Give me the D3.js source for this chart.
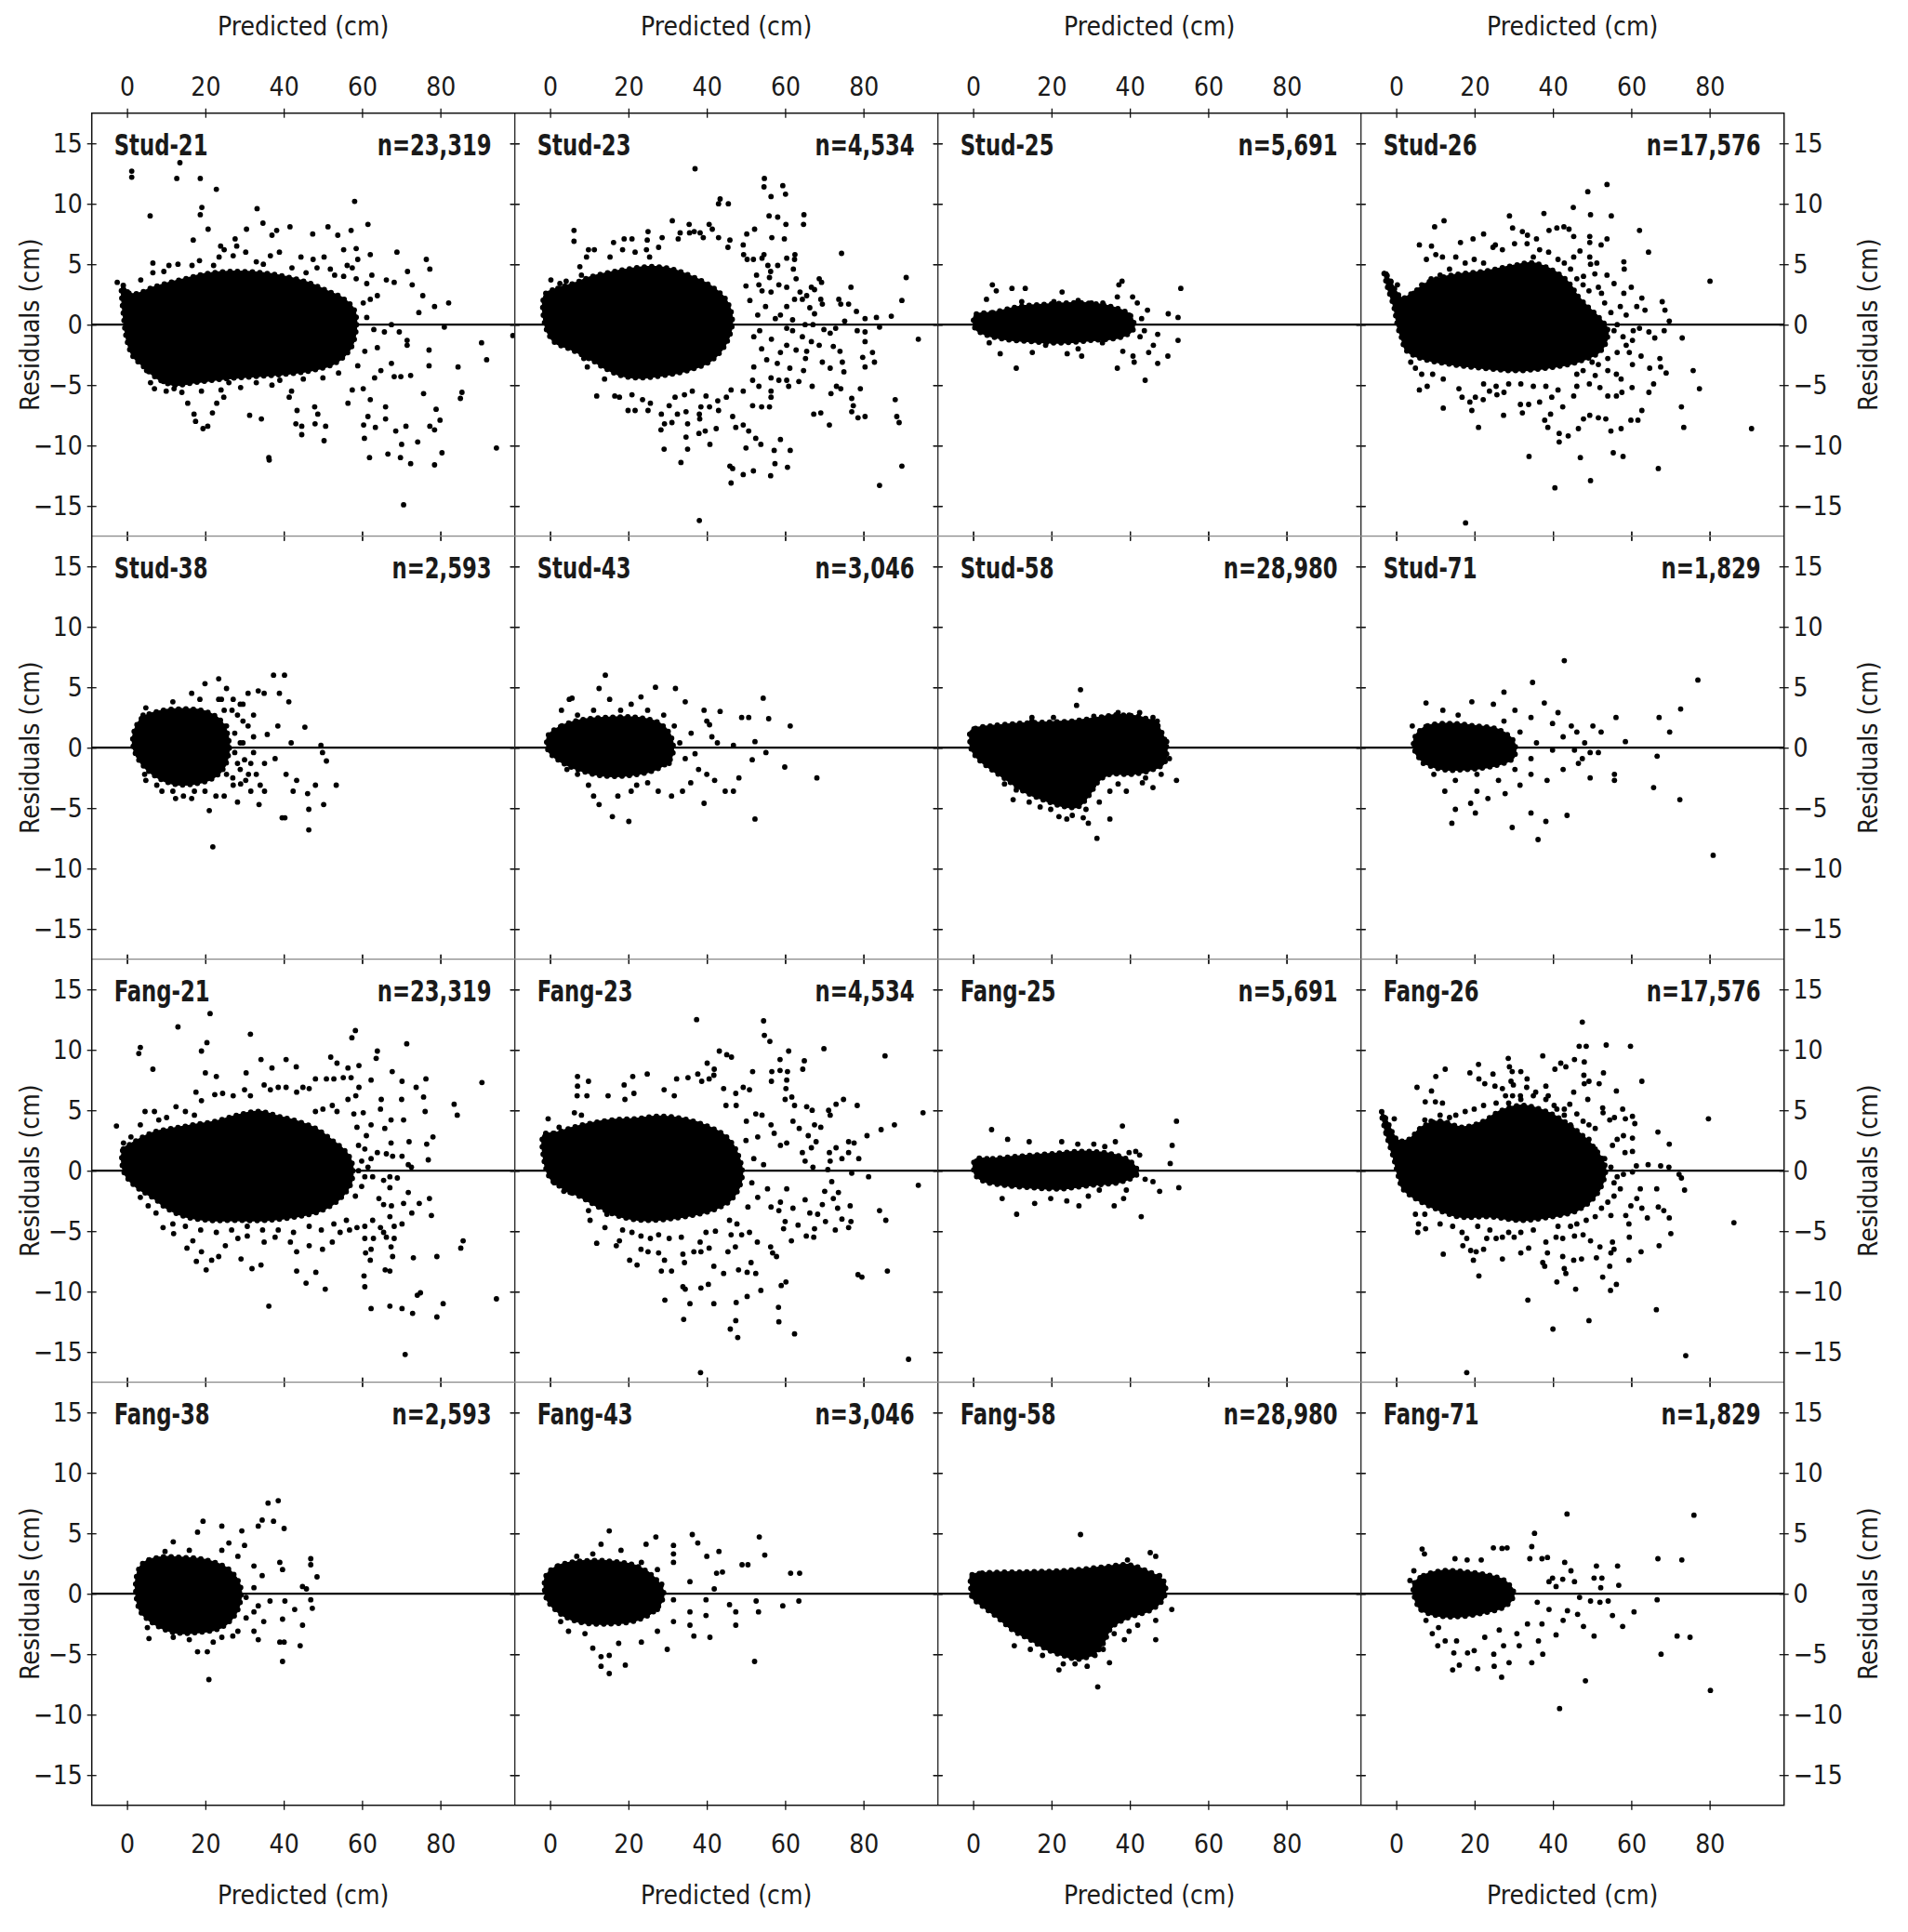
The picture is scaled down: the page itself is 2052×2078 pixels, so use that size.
<!DOCTYPE html>
<html>
<head>
<meta charset="utf-8">
<script src="https://cdn.jsdelivr.net/npm/d3@7"></script>
<style>
  body { margin: 0; background: #fff; }
</style>
</head>
<body>
<svg id="chart"></svg>
<script>
const panelNames = ["Stud-21", "Stud-23", "Stud-25", "Stud-26", "Stud-38", "Stud-43", "Stud-58", "Stud-71",
    "Fang-21", "Fang-23", "Fang-25", "Fang-26", "Fang-38", "Fang-43", "Fang-58", "Fang-71"];
const panelCounts = ["n=23,319", "n=4,534", "n=5,691", "n=17,576", "n=2,593", "n=3,046", "n=28,980", "n=1,829",
    "n=23,319", "n=4,534", "n=5,691", "n=17,576", "n=2,593", "n=3,046", "n=28,980", "n=1,829"];
const xTicks = [0, 20, 40, 60, 80];
const yTicks = [-15, -10, -5, 0, 5, 10, 15];
const xDomain = [-9, 99];
const yDomain = [-17.5, 17.5];
const xTitle = "Predicted (cm)";
const yTitle = "Residuals (cm)";

// dense part of each cloud, outline [predicted, residual]
const stud21Core = [[-1.2,3.3],[0.5,2.6],[3,2.6],[6,3],[10,3.4],[15,3.8],[20,4.2],[27,4.4],[34,4.3],[40,4],[46,3.5],[51,2.8],[55,2.2],[58,1.2],[58.5,-0.3],[57,-2],[53,-3.2],[47,-3.8],[40,-4.1],[32,-4.3],[24,-4.5],[17,-4.8],[12,-5],[8,-4.5],[4,-3.4],[1.5,-2.6],[0,-1.3],[-0.8,0.5]];
const stud23Core = [[-1.3,2.5],[2,3],[6,3.4],[10,3.9],[15,4.3],[20,4.6],[26,4.8],[31,4.6],[36,4],[41,3.2],[45,2],[46.5,0.3],[45,-1.5],[41,-3],[35,-3.8],[29,-4.2],[23,-4.4],[18,-4.2],[14,-3.6],[10,-2.8],[5,-2],[1,-1.4],[-1.3,0]];
const stud25Core = [[0.5,0.8],[5,1],[12,1.5],[20,1.7],[28,1.8],[35,1.5],[40,0.8],[41,-0.3],[38,-1],[30,-1.3],[22,-1.5],[15,-1.4],[8,-1.2],[3,-0.8],[0.5,-0.3]];
const stud26Core = [[-3.1,4.4],[-2.2,3.1],[-0.6,1.5],[0.5,-0.3],[1.3,-1],[2.5,-2.1],[6.5,-2.8],[14.4,-3.3],[22.3,-3.6],[30.2,-3.8],[38.2,-3.6],[46.1,-3.1],[52.4,-2.1],[54,-0.5],[52,0.5],[48.8,1.5],[46,2.5],[44.9,3.1],[41.9,4.1],[35,5.1],[30.2,4.9],[22.3,4.4],[14.4,4.1],[8.1,3.5],[4.1,2.6],[1.5,2.2],[-1.5,3.6]];
const stud38Core = [[2,1.5],[4,2.5],[8,3],[14,3.2],[20,3],[24,2.2],[26,0.5],[25,-1.5],[22,-2.5],[17,-3],[12,-3],[7,-2.3],[3,-1],[1.5,0.3]];
const stud43Core = [[-0.5,1],[3,1.8],[8,2.3],[15,2.5],[22,2.5],[28,2],[31,0.8],[31,-0.8],[27,-1.8],[20,-2.3],[13,-2.3],[7,-1.8],[2,-1],[-0.5,-0.2]];
const stud58Core = [[-0.8,1.3],[0.6,1.6],[4.7,1.8],[11.6,2],[18.4,2.1],[25.3,2.2],[32.2,2.5],[36.3,2.7],[43.2,2.5],[46.6,2],[48.6,0.9],[49.4,-0.2],[48.7,-1.3],[45.9,-1.8],[40.4,-2.2],[34.9,-2.2],[32.2,-2.7],[29.4,-4],[26.7,-4.9],[23.9,-4.9],[21.2,-4.7],[17.1,-4.2],[12.9,-3.6],[8.8,-2.7],[4.7,-1.8],[1.2,-0.9],[-0.6,0],[-0.8,0.9]];
const stud71Core = [[5,1],[8,1.8],[14,2],[20,1.8],[26,1.5],[30,0.5],[30,-0.8],[25,-1.5],[18,-1.8],[12,-1.8],[7,-1.2],[4.5,0]];
const fang21Core = [[-1.3,1.3],[-0.9,1.8],[1.4,2.3],[4.2,2.8],[7,3.2],[11.7,3.5],[17.2,3.8],[22.8,4.1],[28.3,4.6],[33.8,4.9],[38.6,4.5],[43.3,4.1],[48.1,3.5],[52,2.6],[56,1.5],[57.5,0.5],[57.2,-1],[54.4,-2.3],[49.6,-3.3],[43.3,-3.8],[35.4,-4.1],[27.5,-4.1],[21.2,-4.1],[14.9,-3.8],[10.1,-3.1],[7,-2.3],[3,-1.5],[0.6,-0.8],[-0.9,0]];
const fang23Core = [[-1.6,3],[1,3.1],[5,3.5],[10,3.9],[16,4.2],[22,4.3],[28,4.5],[34,4.3],[40,3.7],[45,2.8],[48,1.3],[49,-0.5],[46.5,-2.3],[42,-3.2],[36,-3.7],[30,-4],[24,-4.1],[18,-3.8],[13,-3.1],[8,-2.2],[3,-1.4],[0,-0.6],[-1.6,1]];
const fang25Core = [[0.5,0.9],[5,1],[12,1.2],[20,1.4],[28,1.6],[35,1.4],[40,0.8],[42,-0.2],[38,-0.9],[30,-1.2],[22,-1.5],[15,-1.4],[8,-1.2],[3,-0.9],[0.5,-0.3]];
const fang26Core = [[-3.8,4.9],[-2.6,3.1],[-0.6,1],[0.6,-0.5],[1.7,-1.5],[4.9,-2.3],[9.7,-3.1],[16,-3.8],[23.9,-3.8],[31.8,-4.1],[39.7,-3.8],[46.1,-3.3],[50.8,-2.1],[53.2,-0.5],[53.2,0.5],[50,2.1],[46.1,3.3],[41.3,4.4],[36.6,5.1],[31.8,5.4],[26.3,4.9],[22.3,4.1],[16.8,3.6],[11.2,4.1],[6.5,3.6],[3.3,2.6],[0.5,2.5],[-2.5,4.2]];
const fang38Core = [[2.5,1.5],[4,2.5],[8,3],[14,3],[20,2.8],[26,2],[29,0.5],[28,-1.5],[24,-2.8],[18,-3.2],[12,-3.2],[7,-2.5],[3.5,-1.5],[2.3,0]];
const fang43Core = [[-1,1.5],[2,2.3],[8,2.7],[15,2.7],[22,2.3],[27,1.2],[29,0],[27,-1.3],[22,-2.2],[14,-2.5],[7,-2.3],[2,-1.5],[-1,-0.3]];
const fang58Core = [[-0.6,1.5],[2.3,1.7],[12.6,1.8],[22.9,1.9],[33.2,2.2],[39.4,2.4],[43.5,2],[48.7,1],[48.7,-0.3],[45.6,-1.3],[39.4,-2],[35.3,-2.8],[33.2,-4.1],[31.1,-4.9],[27,-5.4],[22.9,-5.1],[18.8,-4.6],[14.6,-3.8],[10.5,-3.1],[6.4,-2],[2.3,-1],[-0.2,-0.3],[-0.6,0.8]];
const fang71Core = [[4.5,0.8],[7,1.5],[12,1.9],[18,1.8],[24,1.5],[28,1],[30,0],[28,-1],[22,-1.6],[15,-1.9],[9,-1.7],[6,-1.2],[4.5,0]];

// scattered points outside the dense part [predicted, residual]
const stud21Pts = [[1.2,12.2],[1.2,12.7],[13.5,13.4],[12.7,12.1],[18.7,12.1],[22.8,11.2],[5.9,9],[19.1,9.7],[18.7,9.1],[33.2,9.6],[34.7,8.4],[58.1,10.2],[61.5,8.3],[41.6,8.1],[51.3,8.1],[53.8,7.4],[57.2,7.8],[47.4,7.5],[38.2,7.8],[30.5,7.9],[27.6,7.1],[24.8,6.2],[20.7,7.9],[16.9,7],[62.1,5.8],[68.9,6],[76.4,5.4],[77.3,4.6],[71.6,4.4],[66.2,3.7],[68.2,3.5],[72.8,3.3],[75.5,2.4],[78.5,1.5],[82.1,1.8],[74.5,1],[81,-0.2],[69.5,-0.6],[90.5,-1.5],[98.5,-0.9],[91.8,-2.9],[84.5,-3.5],[85.5,-5.6],[85.1,-6.1],[71.5,-1.7],[71.5,-1.3],[72.4,-4.2],[77.1,-2.1],[77.1,-3.4],[75.7,-5.7],[78.9,-7],[79.9,-7.9],[77.3,-8.4],[78.5,-8.7],[80.4,-10.6],[78.5,-11.6],[72.4,-11.5],[70.6,-14.9],[94.3,-10.2],[69.8,-11],[74.2,-9.7],[70.1,-9.9],[71.2,-8.4],[68.6,-8.8],[66.6,-10.7],[66,-7.8],[66,-6.8],[63.4,-8.5],[61.9,-11],[60.6,-9.4],[60.4,-8.3],[61.5,-7.6],[62.1,-6.2],[56.4,-6.5],[50.3,-9.6],[50.7,-8.4],[48,-8.2],[44.6,-9.1],[44.6,-8.4],[43.1,-8.2],[47.9,-6.8],[48.7,-7.4],[43.4,-7.1],[41.4,-6],[36.2,-11],[36.3,-11.2],[34.3,-7.8],[31.3,-7.5],[24.7,-6],[22.9,-6.5],[21.8,-7.3],[20.6,-8.4],[19.4,-8.6],[17.5,-8],[17.1,-7.4],[15.5,-6.5],[9.3,-4.7],[68.2,-4.3],[69.9,-4.3],[67.5,-3.2],[64.8,-3.8],[63.2,-4.4],[60.3,-5.3],[57.5,-5.4],[58.9,-3.4],[60.7,-2.2],[63.9,-1.9],[65.7,-0.6],[67.5,0],[63,-0.4],[61.2,0.6],[60.3,1.8],[62.1,2.1],[63.9,2.4],[62.5,4.1],[61.2,3.4],[58.5,3.8],[58.9,5.4],[57.5,4.7],[58.5,6.3],[55.3,6.2],[56.2,4.9],[55.3,4],[53,4.1],[50.3,5.6],[51.9,4.6],[48.5,4.7],[47.5,5.4],[44.4,5.6],[45.7,4.3],[42.1,4.7],[38.9,6],[36.6,5.7],[37,7.4],[34.8,5],[33,5.2],[30.3,6],[28,6.5],[27.1,5.7],[23.5,5.6],[22.1,4.9],[18.5,5.3],[16.6,4.9],[13,5],[10.7,4.9],[9.4,4.4],[6.6,5.1],[6.6,4.3],[3.5,3.7],[-2.5,3.5],[23.9,6.5],[5,-3.8],[12,-5.3],[14,-5.6],[26,-4.8],[29,-5.2],[33,-4.8],[37,-5],[45,-4.5],[50,-4.4],[54,-4],[10,-5.5],[19,-5.5],[24,-5.4],[39,-4.6],[42,-5.5],[6,-4.8],[7,-5.3]];
const stud23Pts = [[6.1,7.8],[6.1,6.9],[9.8,6.2],[11.3,6.2],[9.3,5.6],[7.6,4.8],[8,4.1],[2.5,3.4],[0.2,3.7],[4.1,3.6],[15.3,5.6],[16.2,6.8],[18.9,7.1],[20.9,7.1],[25,7.7],[24.8,7],[18.5,6.2],[21.7,6],[24.6,6.2],[25.4,5.6],[27.7,6.4],[28.6,7.2],[31.2,8.6],[32.7,7.1],[33.2,7.6],[35.5,8.3],[35.6,7.6],[36.8,7.7],[38.3,7.6],[39.1,7.2],[40.6,8.3],[41.4,7.9],[43,7.2],[43.4,10.4],[43,10],[45.5,10],[37,12.9],[54.7,12.1],[54.6,11.4],[59.4,11.5],[56.4,10.6],[60.1,10.8],[55.9,9],[58.1,8.9],[64.8,9.1],[64.7,8.3],[60.2,8.3],[56.6,7.2],[59.8,7.1],[52.2,7.9],[50.2,7.5],[45.9,7],[45.4,6.4],[49.3,6.6],[49.4,5.8],[50.3,5.4],[51.9,5.4],[54.1,5.5],[54.6,5.8],[60.4,5.5],[62.5,5.8],[62.4,5.4],[62.1,4.6],[58.1,4.9],[55.6,4.9],[56.3,4.4],[52.7,4.1],[56,3.9],[53.3,3.3],[54.1,2.8],[56.4,2.7],[58.4,3.3],[60.4,3.1],[62.8,3.8],[63.8,2.7],[66.7,3.1],[68.7,3.8],[69.3,3.5],[67.5,2.9],[65.5,2.4],[69.1,2.1],[69.5,1.7],[73.7,2.1],[74.2,1.7],[76.2,1.7],[76.8,3.1],[74.4,5.9],[90.9,3.9],[89.8,2],[87.1,0.7],[83.3,0.6],[80.4,0.5],[78.2,1.1],[75.2,0.3],[72.9,-0.3],[69.9,-0.4],[84.1,-0.2],[78.4,-0.5],[80.4,-0.6],[94,-1.2],[80.4,-1.4],[82.3,-2.3],[82.8,-3.1],[80.4,-3.5],[79.8,-2.7],[74.6,-3.1],[75,-3.9],[74,-2.2],[72.3,-1.8],[71.5,-0.7],[68.7,-1.7],[69.5,-3.1],[71.5,-3.6],[73.1,-5.1],[74.2,-5.3],[79.2,-5.3],[77,-6.1],[77.4,-6.7],[77,-7.2],[78.6,-7.7],[80.4,-7.6],[88.1,-6.2],[88.5,-7.6],[89.1,-8.1],[71.3,-8.3],[69.1,-7.3],[67.3,-7.4],[66.9,-5.1],[71.7,-5.7],[89.8,-11.7],[84.1,-13.3],[38.1,-16.2],[33.4,-11.4],[29.1,-10.3],[34.7,-9.3],[35.1,-10.3],[38,-9],[39.6,-8.8],[40.8,-9.9],[42.4,-8.6],[46.6,-7.6],[47.4,-8.5],[49.3,-8.3],[50.7,-8.8],[52.5,-9.4],[53.8,-9.9],[50,-10.2],[57.2,-10.4],[61.3,-10.4],[58.8,-9.5],[57.4,-11.5],[60.6,-11.8],[45.9,-11.7],[46.6,-11.9],[49.3,-12.4],[51.9,-12.1],[46.2,-13.1],[56.3,-12.5],[38.2,-7.8],[38.5,-6.8],[40.7,-6.8],[42.8,-6.3],[45,-6],[43,-7.1],[38.1,-7.4],[34.7,-7.2],[32.5,-7.4],[31.1,-8.1],[35.1,-8.2],[29.2,-8.2],[28.3,-8.7],[21.7,-7.1],[19.9,-7.1],[25,-7.1],[17.7,-6],[16.5,-5.9],[11.9,-5.9],[13.9,-4.5],[9.5,-3.5],[9.9,-2.8],[8.6,-2.8],[4.9,-1.5],[3.3,-1.5],[1.3,-1],[20.9,-5.8],[23.6,-6.2],[25.6,-6.5],[28.4,-7.4],[30.4,-6.7],[31.9,-6],[34.3,-5.8],[36.3,-5.5],[39.8,-5.9],[46.2,-5.4],[49.3,-5.5],[51.7,-6.7],[54,-6.8],[56,-6.8],[56.4,-6],[56.4,-5.5],[53.3,-5.1],[51.7,-4.6],[56.4,-4.4],[58.4,-4.6],[60.4,-4.6],[60.9,-5.1],[63.5,-4.7],[64.7,-3.8],[61.2,-3.6],[58,-3.2],[55.3,-2.9],[58.8,-2.3],[60.4,-1.7],[62.8,-2.1],[64.4,-1],[65.5,-2.2],[66.7,-1.4],[65.2,-2.8],[60.4,-0.3],[61.9,-0.5],[65.1,0],[67.1,0],[61.9,0.4],[58.8,0.8],[60.4,1.5],[62.4,2.1],[64.4,2.1],[66.3,1.4],[67.5,0.9],[51,2],[52,-1],[53,0.8],[54,-2],[55,1.5],[52,-3.5],[50,3.2],[53.5,-0.5],[56.5,-1.2],[57.5,0.5]];
const stud25Pts = [[4.9,3.3],[3.4,2.1],[5.9,2.8],[9.9,3],[13.3,3],[12.4,1.9],[22.7,2.7],[26.8,2],[20.6,1.9],[30.2,1.8],[33.1,1.8],[38,3.6],[37.2,3.3],[36.8,2.3],[40.7,2.3],[41.9,1.8],[53,3],[49.8,0.9],[52.3,0.6],[52.3,-1.3],[47.1,-0.8],[43.7,-0.5],[42.6,-1],[46,-1.7],[44.8,-2.3],[49.7,-2.6],[47.1,-3.2],[43.9,-4.6],[40.8,-2.6],[41.1,-3.1],[38.2,-2.2],[36.8,-3.6],[27.7,-2.6],[26.8,-2],[24,-2.4],[15.1,-2.3],[6.9,-2.4],[4.1,-1.5],[11,-3.6],[18.5,-1.7],[33,-1.5],[35.7,-1],[39.8,0.8],[20.6,-1.4],[43,0.5],[44.5,1.2]];
const stud26Pts = [[53.8,11.6],[48.9,11],[45.2,9.7],[49.6,9.1],[54.9,9],[37.7,9.2],[28.9,9],[12.2,8.6],[9.8,8.1],[5.9,6.6],[9,6.5],[7.7,5.4],[10.1,5.8],[11.8,5.6],[16.4,6.8],[19.6,7.1],[22.3,7.5],[25.3,6.6],[29.7,8],[32.2,7.7],[33.5,7.4],[35.8,7.1],[39,7.8],[41,8],[42.8,8.1],[44.1,7.9],[45.3,7.3],[49.4,7.3],[49.4,6.8],[53.8,7.1],[52.3,6.6],[46.9,6.1],[45.3,5.6],[49.4,5.6],[51.2,5.1],[49.6,5],[58.1,5.2],[58.2,4.6],[62.1,7.8],[64.4,6],[53.8,4.1],[47.8,4],[50.7,4.2],[55.6,3.4],[60,3.1],[58.1,2.6],[62.7,2.2],[63.5,1.2],[61.4,1.5],[67.9,1.9],[68.6,1.2],[69.7,0.3],[80.1,3.6],[62.1,-0.3],[64.5,-0.6],[66,-1.1],[68.4,-0.5],[73,-1.1],[75.8,-3.8],[77.4,-5.3],[72.8,-6.8],[73.4,-8.5],[90.7,-8.6],[66.9,-11.9],[60.5,-0.5],[60.3,-1.3],[58.7,-1.7],[59.5,-2.3],[60.3,-3.3],[62.5,-2.6],[64.7,-3.6],[67.3,-2.8],[67.5,-3.5],[68.9,-4],[65.7,-4.9],[64.5,-5.6],[60.2,-5.2],[57.4,-4.5],[56.2,-4.1],[54,-3.8],[51.6,-3.3],[50.8,-4.2],[49.3,-4.9],[52,-5.2],[54,-5.9],[56.2,-5.9],[57.6,-5.6],[62.7,-7.1],[61.7,-7.9],[59.9,-7.9],[57.4,-8.6],[54.8,-8.8],[55.4,-10.6],[57.9,-10.9],[53.5,-7.8],[51.6,-7.7],[49.4,-7.5],[47.8,-7.8],[46.5,-8.6],[47,-11],[49.6,-12.9],[43.9,-9.2],[41.6,-9],[41.6,-9.7],[40.5,-13.5],[38.7,-8.5],[37.9,-7.9],[39.4,-7.4],[33.9,-10.9],[27.4,-7.5],[21,-8.5],[17.7,-16.4],[12,-6.9],[5.9,-5.4],[7.9,-5.1],[16.8,-6],[18.8,-6.4],[19.3,-7.1],[20.2,-6],[22.2,-6.2],[23.8,-5.5],[25.7,-5.8],[27.5,-5.6],[31.7,-6.6],[33.8,-6.6],[32.2,-7.3],[36.6,-6.4],[39.7,-6],[42.5,-6.8],[45.3,-5.9],[46.1,-5.1],[41.3,-5.4],[38.2,-5.1],[35,-5.1],[31.8,-4.9],[28.7,-4.9],[25.5,-5.1],[22.3,-4.9],[16,-5.3],[12,-4.5],[9.3,-4.1],[6.5,-4.1],[4.9,-3.6],[3.7,-3.1],[46.1,-4.1],[47.7,-3.8],[50,-3.1],[54,-2.8],[56.4,-2.3],[57.9,-1],[55.6,-0.5],[56.4,0],[58.7,0.8],[57.2,1.5],[54.8,1],[53.2,1.8],[52.4,2.6],[51.6,3.1],[49.2,2.8],[47.7,3.3],[46.1,3.8],[44.5,4.6],[42.9,5.1],[41.3,5.4],[38.9,6],[36.6,6.2],[35,5.6],[33.4,6.7],[30.2,6.7],[27.1,6.2],[24.7,6.4],[22.3,5.1],[19.9,5.4],[17.6,5.1],[15.2,5.6],[13.6,4.6],[11.2,4.1],[8.9,3.8],[6.5,3.3],[4.5,2.6],[0.3,3.3],[-1.4,3.6],[-2.6,4.2]];
const stud38Pts = [[23.4,5.7],[37.4,6],[40.2,6],[19.9,5.3],[25.4,4.9],[30.9,4.5],[33.5,4.7],[35,4.5],[38.9,4.5],[41.3,3.8],[45.4,1.7],[38.5,1.8],[35.8,1.1],[32.3,2.7],[29.6,2.2],[26.8,3.1],[11.7,3.8],[4.8,3.3],[4.1,2.7],[49.5,0.2],[49.9,-0.4],[50.9,-1.1],[53.4,-3.1],[48.1,-3.1],[46.1,-3.8],[50.2,-4.7],[46.4,-5.1],[46.4,-6.8],[40.3,-5.8],[39.6,-5.8],[42.4,-3.6],[40.6,-2.2],[43.3,-2.7],[37.8,-0.9],[41.9,0.4],[35.1,-3.6],[33.7,-4.7],[31.6,-3.6],[28.2,-4.5],[24.8,-4],[21,-5.2],[21.9,-8.2],[16.5,-4.2],[12.4,-4.2],[8.9,-3.6],[4.5,-2.2],[2.1,0],[2.3,1.3],[28.2,-1.3],[31,-2.2],[32.3,-0.4],[29.6,0.4],[25.4,1.8],[35.1,-1.3],[28.9,3.6],[24.1,4],[18.6,4],[16.5,4.5],[27,-2.5],[29,-3],[27.5,1.2],[30,-1],[23.4,4],[24.8,3.1],[27.1,4],[28.2,2.7],[29.6,3.6],[30.9,1.8],[32.3,0.9],[24.1,-1.3],[25.4,-2.2],[27.1,-3.1],[28.9,-1.8],[30.3,-2.7],[31.6,-1.3],[33,-2.2],[34,-3.1],[22.7,-4],[19.9,-3.6],[17.2,-3.6],[14.4,-4],[11.7,-3.6],[7.6,-3.1],[4.8,-2.7],[26.1,0],[27.5,-0.4],[28.9,0.4]];
const stud43Pts = [[14.1,6],[12.5,4.9],[5.6,4.1],[4.9,4],[26.9,5],[32,4.9],[23.2,4.2],[20.7,3.6],[15.2,4],[34.5,3.8],[39.3,3.1],[43.4,3],[48.9,2.5],[50.7,2.5],[54.4,4.1],[55.8,2.4],[61.3,1.8],[40,2.2],[40.7,1.9],[41.3,0.9],[42.7,0.4],[46.8,0.2],[52.3,0.5],[55.1,-0.4],[51.6,-1],[59.9,-1.6],[68.1,-2.5],[48.2,-2.5],[46.8,-3.6],[44.7,-3.6],[42,-2.7],[40,-2.2],[37.9,-1.8],[35.9,-2.9],[39.3,-4.6],[52.3,-5.9],[33.8,-3.6],[31,-4],[27.6,-3.6],[24.9,-2.9],[20.1,-6.1],[15.9,-5.7],[12.5,-4.7],[11.1,-4],[9.8,-3.1],[17.3,-4],[20.7,-3.6],[22.1,-3.1],[7,-2.2],[4.3,-1.8],[2.9,3.1],[7,2.7],[11.1,3.1],[18,3.1],[24.9,3.1],[29,2.7],[31.7,1.8],[33.1,0.4],[34.5,-0.9],[30.4,-1.3],[36,1.2],[37,-0.5]];
const stud58Pts = [[27.4,4.8],[26.4,3.5],[30.8,2.6],[37,2.9],[39.8,2.7],[45.9,2.5],[47,2.2],[49.4,0.5],[51.9,-2.7],[50.1,-0.9],[48,-2.2],[45.9,-3.3],[43.2,-2.9],[39.1,-3.6],[34.9,-5.9],[31.6,-7.5],[29.4,-6.25],[28.1,-5.8],[28.8,-5.1],[25.3,-5.6],[23.9,-5.9],[21.9,-5.7],[19.8,-5.1],[17.1,-4.9],[14.3,-4.5],[10.2,-4.3],[32.2,-4.5],[34.9,-3.6],[30.8,-3.1],[15,2.2],[20.5,2.5],[15,2.5],[42.5,2.9],[11,-3.5],[8,-3],[44,-2.5],[37,-3]];
const stud71Pts = [[42.9,7.2],[34.8,5.4],[27.5,4.6],[77,5.6],[72.6,3.2],[67.1,2.5],[69.8,1.3],[56.1,2.5],[50.2,1.8],[52.3,1.3],[58.5,0.5],[37.8,3.7],[41.3,2.9],[44.7,1.8],[46.1,1.3],[39.9,2],[49.5,-0.4],[51.6,-0.4],[66.6,-0.7],[47.5,-0.9],[46.5,-1.3],[42.6,-1.8],[49.5,-2.5],[55.7,-2.2],[55.7,-2.7],[65.7,-3.3],[72.4,-4.3],[80.9,-8.9],[43.6,-5.6],[38.2,-6.1],[36.2,-7.6],[34.4,-5.4],[29.6,-6.6],[27.8,-3.8],[23.4,-4.2],[20.2,-5.4],[19,-4.6],[14.2,-6.25],[15.1,-5.1],[12.4,-3.6],[20.6,-3.6],[31.6,-3.1],[38.5,-2.7],[34.4,-2.2],[7.6,3.7],[11.9,3.1],[15.8,2.7],[19.3,3.8],[24.8,3.6],[30.3,3.1],[34.4,2.5],[4.1,1.8],[4.8,0.4],[6.9,-1.3],[9.6,-2.2],[27.5,2.2],[31.6,1.3],[35.8,0.4],[39.9,-0.2],[42.6,0.9],[34.4,-0.9],[30.3,-1.8],[26.1,-2.7],[20.6,-2.2],[15.1,-2.7],[45.5,-0.2],[48.1,0.4]];
const fang21Pts = [[-2.7,3.7],[-0.9,2.3],[1,2.8],[3.4,3.8],[4.6,4.9],[7,4.9],[8.1,4.2],[10.1,4.4],[12.5,5.3],[14.9,4.9],[17.2,4.6],[17.6,6.5],[19,5.8],[20,8.1],[22.8,7.8],[22.4,6.3],[24.4,6.4],[27.1,6.2],[30,6.7],[31.5,6.2],[35,7.1],[36.6,6.7],[38.6,6.9],[40.6,6.9],[43.3,6.5],[44.9,6.9],[46.5,6.8],[48.1,7.6],[50.9,7.6],[52.8,7.6],[55.2,7.7],[57.2,7.7],[59.2,6.9],[58.4,6.2],[56.4,5.9],[52.4,5.4],[48.1,4.9],[50,5.1],[53.6,4.9],[57.9,4.7],[60.3,4.8],[62.3,3.8],[61.1,2.9],[59.1,2.1],[58.7,3.6],[60.7,1.8],[62.3,1],[63.9,1.5],[66.2,1.4],[67.8,1.2],[70.2,1.2],[72.6,0.3],[76.9,0.9],[71.8,0.5],[76.5,2.2],[78.1,2.8],[72,2.4],[67.4,2.3],[65.8,3.5],[64.7,5.1],[67.4,4.2],[70.6,4.2],[76.1,4.9],[75.7,6.1],[73.8,6.9],[70.2,7.4],[70.1,5.9],[67.7,8.2],[64.9,5.9],[62.3,7.5],[76.3,7.6],[83.5,5.5],[84.3,4.6],[90.6,7.3],[71.4,10.5],[63.9,9.9],[63.6,9.3],[58.3,11.6],[57.4,11],[52,9.4],[53.6,8.9],[56.4,8.5],[59.2,8.7],[43.2,8.6],[37,8.5],[40.6,9.2],[34.2,9.2],[31.5,11.3],[30.4,8.1],[19,9.9],[20.4,10.6],[21.2,13],[13,11.9],[3.4,10.2],[3,9.7],[6.6,8.4],[62.7,-0.5],[65.5,-0.8],[67.1,-0.5],[69,-0.6],[64.3,-2.3],[67.1,-1.4],[65.5,-2.8],[67.5,-2.9],[70.6,-2.7],[71.8,-1.8],[74.6,-2.7],[77.2,-2.3],[77.7,-3.7],[72.7,-3.5],[70.2,-4.4],[68.2,-4.6],[67.1,-3.8],[64.7,-4.7],[62.7,-4.1],[60.7,-4.6],[58.7,-4.7],[62.9,-5.6],[60.7,-5.6],[65.5,-5.1],[66.2,-5.5],[68.2,-5.6],[67.4,-6.3],[67.8,-7.1],[73.1,-7.2],[79.1,-7.1],[85.8,-5.8],[85.2,-6.4],[94.3,-10.6],[80.7,-11],[79.1,-12.1],[74.9,-10.1],[74.1,-10.3],[72.9,-11.8],[70.2,-11.4],[67.1,-11.2],[62.3,-11.4],[71,-15.2],[60.7,-9.6],[60.5,-8.7],[62.1,-7.4],[60.9,-6.8],[62.3,-6.5],[65.9,-8.2],[67.1,-8.3],[50.6,-9.8],[48.2,-8.4],[45.7,-9.3],[43.3,-8.3],[36.2,-11.2],[34.2,-7.8],[31.9,-8.1],[29.1,-7.3],[23.4,-7.1],[21.6,-7.4],[20.2,-8.2],[17.7,-7.5],[19,-6.7],[15.3,-6.4],[16.8,-5.8],[11.9,-5.2],[9.2,-4.7],[7.4,-3.5],[5.4,-2.9],[3.4,-2.2],[25.1,-6.2],[28.3,-5.6],[30.7,-5.4],[35,-5.9],[37.8,-5.5],[41.7,-5.9],[43.3,-6.7],[46.5,-6.2],[49.9,-6.5],[52.4,-5.9],[54.4,-5.1],[56.8,-4.9],[56,-4.1],[52.8,-4.4],[49.6,-4.9],[46.5,-4.6],[42.5,-5.1],[38.6,-4.9],[34.6,-4.9],[30.7,-4.6],[26.7,-4.9],[22.8,-5.1],[18.8,-4.9],[14.9,-4.6],[11.7,-4.4],[58.3,-2.1],[59.9,-1.3],[60.7,-0.5],[59.1,0],[59.9,0.8],[61.5,0.3]];
const fang23Pts = [[37.4,12.5],[54.5,12.4],[54.7,11.2],[56.1,10.7],[43.2,9.9],[45.1,9.6],[46.3,9.4],[60.9,9.9],[69.9,10.1],[85.5,9.5],[58.7,9.2],[64.9,9.1],[64.5,8.4],[40.1,8.9],[51.7,8.2],[56.6,8.2],[58.7,8.3],[60.6,8.2],[60.4,7.5],[56.5,7.4],[60.2,6.8],[61.7,6.1],[60,5.9],[62.4,5.4],[65.5,5.3],[66.9,5],[74.9,5.9],[78.4,5.4],[73,5.5],[71.1,5],[71.5,4.6],[95.2,4.8],[87.9,3.8],[84.5,3.4],[80.9,2.9],[77.6,2.3],[76.2,2.4],[78.8,1],[76.2,1.5],[74.5,1],[73,1.9],[71.3,1.5],[71.5,0.8],[70.9,0.1],[77,-0.2],[81.3,-0.5],[94,-1.2],[84.1,-3.3],[85.7,-4.1],[86.1,-8.3],[78.6,-8.6],[79.6,-8.8],[91.5,-15.6],[76.2,-4.7],[76.8,-4.2],[76.6,-2.9],[74.5,-4],[72.8,-4.9],[73.4,-3.1],[72.3,-2.3],[73.6,-1.8],[70.3,-4.2],[69.5,-2.8],[67.5,-4.8],[67.3,-5.5],[65.4,-5.4],[63.3,-4.5],[61.6,-5.8],[59.6,-4.8],[60,-4.2],[58.4,-3.3],[56.4,-3],[58.8,-2.6],[60.4,-1.5],[62,-3.1],[65.1,-2.4],[66.3,-3.5],[68.3,-3.6],[70.1,-1.7],[71.9,-0.9],[67.1,0.3],[65.1,0.8],[64.4,1.5],[66.7,1.9],[67.9,2.4],[69.1,3.6],[67.5,3.8],[65.9,2.9],[63.6,3.5],[62,4.1],[60.4,2.3],[58.8,2.1],[57.2,3.1],[56.4,3.8],[54.1,4.6],[52.5,4.7],[50.1,4.1],[49.3,6.9],[50.9,6.7],[47.4,6.4],[47.5,5.4],[44.9,5.4],[44.3,6.8],[41.9,8.4],[41.8,7.9],[40.6,7.6],[38.7,7.4],[35.2,7.7],[37.7,8],[32.3,7.6],[29.1,6.7],[31.7,6.2],[24.8,8],[21.1,7.8],[18.9,7.1],[21.4,6.4],[19.1,5.9],[14.8,6.2],[7,7.8],[7,7],[9.8,7.4],[6.9,6.2],[9.4,6.2],[6.2,4.8],[8,4.6],[-0.5,4.3],[2.3,3.6],[3.5,3.1],[1.1,-1],[3.5,-1.7],[5.1,-1.8],[7.4,-1.9],[9.8,-3.3],[10.2,-4.1],[14,-4.7],[11.9,-6],[14.5,-3.6],[16.9,-6.2],[17.7,-5.8],[20.3,-7.4],[22.2,-7.8],[23.2,-6.5],[25,-6.7],[27.7,-6.8],[28.4,-8.3],[31,-8.3],[29.2,-7.4],[33.9,-6.9],[34.3,-7.6],[36.7,-6.7],[38.5,-6.7],[40.6,-6.4],[41.8,-7.9],[44.3,-8.5],[45.4,-6.7],[47.3,-6.3],[48.1,-8.2],[50.3,-8.4],[52.5,-8.5],[51.3,-7.6],[56.3,-6.3],[56.8,-6.8],[57.8,-7.1],[52.9,-5.9],[50.9,-5.1],[48.9,-5.3],[46.2,-5.3],[45.8,-4.1],[47.7,-4.4],[42.2,-5],[39.8,-5.1],[38.3,-5.9],[33.5,-5.5],[30.4,-5.6],[27.7,-5.3],[25.6,-5.6],[23.2,-5.4],[20.9,-5.1],[18.5,-4.9],[33.9,-9.6],[34.5,-9.8],[38.5,-9.7],[40.4,-9.4],[29.3,-10.7],[35.7,-11],[34.1,-12.3],[41.8,-11],[47.5,-10.9],[50.3,-10.4],[53.8,-9.9],[59,-9.5],[60.2,-9.2],[58.3,-11.3],[58.4,-12.5],[62.4,-13.5],[47.4,-12.4],[46,-13.1],[47.9,-13.8],[38.4,-16.7],[50,2.5],[51.5,-1],[52,1],[53,-2.2],[54.5,0.5],[50.5,-3],[55.5,-1.5],[53,2.8]];
const fang25Pts = [[51.9,4.1],[50.8,2.1],[50.3,0.6],[52.5,-1.4],[47.6,-1.7],[45.9,-0.9],[43.9,-0.7],[42.9,-3.8],[36,-2.9],[38.4,-2.3],[38.1,3.7],[41.5,1.6],[42.5,1.3],[39.8,1.5],[36.3,2.4],[33.6,2],[30.8,2.2],[26.7,2.2],[22.6,2.4],[14.3,2.4],[8.8,2.6],[4.7,3.4],[11.1,-3.6],[15.7,-2.7],[7.4,-2.3],[19.8,-2.3],[23.9,-2.5],[27,-2.9],[29.4,-2.1],[32.2,-1.6],[39.1,-1.6],[40.4,0.2],[34.9,0.8]];
const fang26Pts = [[47.5,12.3],[46.7,10.3],[48.5,10.3],[53.6,10.4],[59.8,10.3],[28.6,9.3],[28.9,8.6],[37.4,9.5],[45.5,9.2],[48,9],[42,8.9],[43.3,8.6],[40.5,8.4],[21,8.8],[12.5,8.4],[18.8,8.1],[10.1,7.8],[5.3,6.9],[9,6.6],[7.4,5.7],[10,5.7],[11.8,5.6],[24.7,8],[21.1,7.6],[22.6,7.2],[29.6,8.2],[31.8,8.2],[33.4,7.6],[29.3,7.4],[29.9,7.1],[25.2,7],[27.1,6.8],[27.9,6.2],[29.7,6.2],[31.7,6.2],[33.3,6.9],[35.6,6.5],[38.2,7],[38.8,6.2],[40.3,5.4],[41,5.1],[42.9,5.1],[44.3,5.5],[46.1,4.7],[45.3,6.5],[47.9,7.9],[48,7.2],[49.2,7.4],[48.9,5.9],[51.8,7.2],[52.9,8.1],[56.2,6.6],[62.7,7.4],[52.7,5.2],[52.8,4.8],[54.5,4.2],[55.7,4.4],[57.8,5.1],[58.5,4.3],[60.3,4.5],[60.9,3.9],[60.3,2.7],[58,2.9],[56.4,2.6],[55.2,2.1],[58.4,1.5],[60.3,1.6],[79.7,4.3],[66.8,3.2],[69.7,2.2],[67.5,0.4],[69.6,0.3],[64.3,0.5],[61.3,0.4],[60.3,-0.1],[72.2,-0.3],[72.8,-0.6],[73.6,-1.6],[66.5,-1.5],[62.3,-1.5],[61.4,-2.3],[59.9,-2.9],[62.7,-3.1],[66.9,-3],[68.3,-3.3],[64.1,-3.9],[69.7,-3.9],[70.1,-5.2],[86.2,-4.3],[67.1,-6.2],[62.5,-6.7],[59.5,-5.5],[59.4,-7.4],[58.6,-3.7],[59.4,-4.4],[54.8,-3.7],[55.2,-5.9],[55.6,-6.5],[54.8,-6.8],[54.5,-7.9],[52.7,-8.8],[54.7,-9.9],[56.2,-9.4],[66.4,-11.5],[73.9,-15.3],[49.2,-12.4],[40,-13.1],[33.6,-10.7],[41,-9.2],[42.9,-8.1],[43.3,-8.5],[45.8,-9.8],[47.3,-7.3],[45.3,-7.4],[51.1,-7.2],[49.6,-5.8],[52,-6.3],[47.7,-5.3],[45.5,-5.4],[42.5,-5.6],[40.8,-5.5],[38.6,-6.8],[38.2,-5.9],[37.4,-7.6],[37.9,-7.9],[42.5,-7.1],[33.8,-6.4],[31.8,-6.8],[27.1,-7.3],[21.1,-8.7],[18,-16.7],[19.7,-7.4],[20.4,-6.7],[19,-6.6],[17,-6.2],[18,-5.6],[22.3,-6.5],[23.1,-5.6],[25.5,-5.6],[27.1,-5.5],[30.1,-5.5],[12,-6.9],[7.5,-4.8],[5.5,-5.1],[5.7,-4.4],[4.9,-3.6],[7.3,-3.6],[11.2,-4.4],[14.4,-4.6],[16.8,-5.1],[20.8,-4.6],[23.9,-4.9],[28.7,-5.1],[31.8,-5.1],[35,-4.9],[41.3,-4.6],[44.5,-4.6],[46.1,-4.4],[48.5,-4.1],[50.8,-3.8],[52.4,-3.1],[54,-2.6],[55.6,-2.1],[57.2,-1.5],[55.6,-1],[56.4,-0.5],[58,-0.3],[54.8,0.3],[53.2,1],[50.8,1.8],[49.2,2.6],[50.8,3.5],[49.2,3.8],[47.7,4.1],[44.5,3.8],[42.9,4.6],[38.2,5.9],[35,6.2],[31.8,5.9],[28.7,5.6],[25.5,5.6],[22.3,5.4],[19.9,5.1],[17.6,4.9],[15.2,4.6],[13.6,4.4],[11.2,4.6],[8.9,4.1],[7.3,4.2],[-0.5,4.3],[-3,4.4]];
const fang38Pts = [[38.6,7.7],[36,7.5],[34.5,6.1],[19.4,6],[24.2,5.6],[29.3,5.2],[18,5.1],[33.5,5.6],[40.1,5.4],[37.4,6],[11.8,4.3],[46.9,2.9],[46.9,2.4],[39,2.6],[39.7,2],[48.5,1.4],[44.8,0.6],[45.8,0.4],[46.9,-0.5],[47.3,-1.2],[44.8,-2.6],[39.7,-2.1],[42.8,-1.3],[40.3,-0.6],[36.5,-0.6],[33.5,-1],[34.9,-2.3],[32.4,-3.1],[33.5,-3.8],[40.1,-4],[39,-4],[44.2,-4.3],[39.7,-5.6],[20.9,-7.1],[18,-4.8],[20.5,-4.8],[11.8,-3.6],[5.6,-3.7],[5.2,-2.8],[15.9,-3.8],[24.2,-3.6],[28.3,-3.1],[30.4,-2],[32.4,-1.5],[30.4,-0.3],[32.4,0.5],[34.5,1.5],[32.4,2.3],[28.3,3.1],[24.2,3.6],[15.9,3.6],[9.7,3.5],[5.6,2.8],[2.5,0.8],[26,4.2],[30,4],[22,-4],[27,-3.5]];
const fang43Pts = [[15.1,5.2],[36.3,4.9],[27,4.7],[53.4,4.7],[54.8,3.2],[50.5,2.4],[49,2.4],[61.4,1.7],[63.7,1.7],[63.5,-0.6],[59.4,-1],[52.6,-0.6],[53.2,-1.5],[47.4,-1.5],[47.4,-2.6],[45.8,-0.9],[41.9,0.4],[42.5,1.7],[44,1.8],[40,3.1],[43.1,3.5],[37.7,4.2],[31.5,4],[31.5,3.3],[24.5,4.1],[18.1,3.6],[13,4.1],[10.9,3.3],[6.8,3.1],[5.8,2],[36.7,-3.5],[29.9,-4.6],[23.3,-4],[17.5,-4.1],[15.1,-5.1],[13,-5.2],[10.9,-4.5],[13,-6],[15.1,-6.6],[19.2,-5.9],[52.2,-5.6],[40.8,-3.6],[35.7,-2.6],[31.5,-2.3],[27.4,-3.1],[35.7,-1.5],[39.8,-1.8],[31.5,-0.5],[27.4,-1.3],[28.5,0.8],[35.7,1],[39.8,-0.5],[27.4,2],[31.5,2.6],[23.3,2.6],[4.7,-3.1],[8.9,-3.3],[2.7,-2.3]];
const fang58Pts = [[27.4,4.9],[45.2,3.4],[46.6,3.1],[39.4,2.8],[50.7,-1.3],[46.6,-2.2],[46.6,-3.8],[39.8,-3.1],[38.6,-3.8],[34.8,-5.7],[31.8,-7.7],[29.1,-6],[26,-5.8],[21.9,-6.3],[23,-5.8],[31.1,-5.1],[33.2,-4.6],[10.5,-4.3],[14.6,-4.6],[17.7,-5.1],[47.6,1.5],[36,-3.3],[42,-2.6]];
const fang71Pts = [[43.6,6.6],[76,6.5],[35.3,5],[34.6,3.9],[28.3,3.8],[27,3.75],[24.8,3.8],[6.6,3.7],[7.2,3.3],[15,2.9],[18.1,2.8],[21.7,2.8],[38.6,3],[37.2,2.9],[43,2.6],[34.1,2.9],[44.6,1.9],[51.1,2.3],[56.5,2.3],[66.8,2.9],[72.9,2.8],[50.5,1.3],[52.5,1.3],[52.2,0.5],[56.8,0.7],[45.5,1],[42.5,1.2],[40.8,0.6],[39.9,1.3],[39,1],[46.8,-0.3],[49.6,-0.6],[52,-0.7],[54.1,-0.6],[66.6,-0.5],[60.7,-1.5],[55.2,-1.8],[57.8,-2.7],[50.5,-3.5],[47.8,-2.7],[43.7,-1.4],[42.6,-2.2],[46.3,-1.7],[40.8,-3.4],[71.7,-3.5],[75,-3.6],[67.6,-5],[48.3,-7.2],[41.7,-9.5],[80.2,-8],[37.4,-5],[34.6,-5.7],[36.3,-3.9],[31.4,-4.3],[27.4,-4.3],[28.8,-5.7],[26.9,-6.9],[25,-6],[24.9,-5],[20.8,-6.2],[19.9,-4.7],[18.2,-4.9],[16.1,-5.9],[14.4,-6.3],[14.7,-4.9],[12.5,-3.9],[10.6,-4.3],[9.2,-3.3],[15.4,-3.9],[22.6,-3.6],[26.3,-3],[30.8,-3.3],[33.5,-2.5],[37.2,-2.5],[39,-1.3],[36,-0.7],[4.5,1.9],[3.5,1.1],[6.3,-1.3],[7.6,-2.2],[10.8,-2.8]];

const cores = [stud21Core, stud23Core, stud25Core, stud26Core, stud38Core, stud43Core, stud58Core, stud71Core,
    fang21Core, fang23Core, fang25Core, fang26Core, fang38Core, fang43Core, fang58Core, fang71Core];
const points = [stud21Pts, stud23Pts, stud25Pts, stud26Pts, stud38Pts, stud43Pts, stud58Pts, stud71Pts,
    fang21Pts, fang23Pts, fang25Pts, fang26Pts, fang38Pts, fang43Pts, fang58Pts, fang71Pts];

const width = 2052;
const height = 2078;
const gridLeft = 98.7;
const gridTop = 121.7;
const pw = 455;
const ph = 455;
const rad = 2.9;
const tick = 5;
const fontReg = "'DejaVu Sans Condensed', 'DejaVu Sans', sans-serif";
const fontBold = "'DejaVu Sans Condensed', 'DejaVu Sans', sans-serif";
const boldSqueeze = 0.79;

const svg = d3.select("#chart")
    .attr("width", width)
    .attr("height", height)
    .attr("viewBox", [0, 0, width, height]);

svg.append("rect").attr("width", width).attr("height", height).attr("fill", "#fff");

const x = d3.scaleLinear().domain(xDomain).range([0, pw]);
const y = d3.scaleLinear().domain(yDomain).range([ph, 0]);

const core = d3.line()
    .x(d => x(d[0]))
    .y(d => y(d[1]))
    .curve(d3.curveCatmullRomClosed.alpha(0.5));

svg.append("defs").append("clipPath").attr("id", "clip")
    .append("rect").attr("width", pw).attr("height", ph);

panelNames.forEach((name, i) => {
    const col = i % 4;
    const row = Math.floor(i / 4);
    const g = svg.append("g")
        .attr("transform", `translate(${gridLeft + col * pw},${gridTop + row * ph})`);

    const plot = g.append("g").attr("clip-path", "url(#clip)");

    plot.append("path")
        .datum(cores[i])
        .attr("d", core)
        .attr("fill", "#000")
        .attr("stroke", "#000")
        .attr("stroke-width", 2)
        .attr("stroke-linejoin", "round");

    // ragged edge of the dense cloud
    plot.append("path")
        .datum(cores[i])
        .attr("d", core)
        .attr("fill", "none")
        .attr("stroke", "#000")
        .attr("stroke-width", 6)
        .attr("stroke-linecap", "round")
        .attr("stroke-dasharray", "0 8");

    plot.selectAll("circle")
        .data(points[i])
        .join("circle")
        .attr("cx", d => x(d[0]))
        .attr("cy", d => y(d[1]))
        .attr("r", rad)
        .attr("fill", "#000");

    plot.append("line")
        .attr("x1", 0).attr("x2", pw)
        .attr("y1", y(0)).attr("y2", y(0))
        .attr("stroke", "#000")
        .attr("stroke-width", 2.2);

    // ticks cross every panel edge
    const ticks = [
        [d3.axisBottom(x).tickValues(xTicks), `translate(0,${-tick})`],
        [d3.axisBottom(x).tickValues(xTicks), `translate(0,${ph - tick})`],
        [d3.axisRight(y).tickValues(yTicks), `translate(${-tick},0)`],
        [d3.axisRight(y).tickValues(yTicks), `translate(${pw - tick},0)`]
    ];
    ticks.forEach(([ax, tr]) => {
        g.append("g")
            .attr("transform", tr)
            .call(ax.tickSize(tick * 2).tickFormat(""))
            .call(a => a.select(".domain").remove())
            .call(a => a.selectAll("line").attr("stroke", "#111").attr("stroke-width", 1.3));
    });

    g.append("text")
        .attr("transform", `translate(24,45) scale(${boldSqueeze},1)`)
        .attr("font-family", fontBold)
        .attr("font-weight", "bold")
        .attr("font-size", 32)
        .attr("fill", "#1a1a1a")
        .text(name);

    g.append("text")
        .attr("transform", `translate(${pw - 25},45) scale(${boldSqueeze},1)`)
        .attr("text-anchor", "end")
        .attr("font-family", fontBold)
        .attr("font-weight", "bold")
        .attr("font-size", 32)
        .attr("fill", "#1a1a1a")
        .text(panelCounts[i]);
});

// panel frame: columns in black, rows in grey
for (let c = 1; c < 4; c++) {
    svg.append("line")
        .attr("x1", gridLeft + c * pw).attr("x2", gridLeft + c * pw)
        .attr("y1", gridTop).attr("y2", gridTop + 4 * ph)
        .attr("stroke", "#222").attr("stroke-width", 1.3);
}
for (let r = 1; r < 4; r++) {
    svg.append("line")
        .attr("x1", gridLeft).attr("x2", gridLeft + 4 * pw)
        .attr("y1", gridTop + r * ph).attr("y2", gridTop + r * ph)
        .attr("stroke", "#888").attr("stroke-width", 1.3);
}
svg.append("rect")
    .attr("x", gridLeft).attr("y", gridTop)
    .attr("width", 4 * pw).attr("height", 4 * ph)
    .attr("fill", "none")
    .attr("stroke", "#111")
    .attr("stroke-width", 1.5);

const styleLabels = a => a
    .call(s => s.select(".domain").remove())
    .attr("font-family", fontReg)
    .attr("font-size", 28)
    .call(s => s.selectAll("text").attr("fill", "#1a1a1a"));

for (let c = 0; c < 4; c++) {
    const cx = gridLeft + c * pw;
    svg.append("g")
        .attr("transform", `translate(${cx},${gridTop})`)
        .call(d3.axisTop(x).tickValues(xTicks).tickSize(0).tickPadding(18.4))
        .call(styleLabels);
    svg.append("g")
        .attr("transform", `translate(${cx},${gridTop + 4 * ph})`)
        .call(d3.axisBottom(x).tickValues(xTicks).tickSize(0).tickPadding(31.4))
        .call(styleLabels);
    svg.append("text")
        .attr("x", cx + pw / 2).attr("y", 38)
        .attr("text-anchor", "middle")
        .attr("font-family", fontReg).attr("font-size", 28).attr("fill", "#1a1a1a")
        .text(xTitle);
    svg.append("text")
        .attr("x", cx + pw / 2).attr("y", 2048)
        .attr("text-anchor", "middle")
        .attr("font-family", fontReg).attr("font-size", 28).attr("fill", "#1a1a1a")
        .text(xTitle);
}

for (let r = 0; r < 4; r++) {
    const cy = gridTop + r * ph;
    svg.append("g")
        .attr("transform", `translate(${gridLeft},${cy})`)
        .call(d3.axisLeft(y).tickValues(yTicks).tickSize(0).tickPadding(9.9))
        .call(styleLabels);
    svg.append("g")
        .attr("transform", `translate(${gridLeft + 4 * pw},${cy})`)
        .call(d3.axisRight(y).tickValues(yTicks).tickSize(0).tickPadding(9.8))
        .call(styleLabels);
    svg.append("text")
        .attr("transform", `translate(41.5,${cy + ph / 2}) rotate(-90)`)
        .attr("text-anchor", "middle")
        .attr("font-family", fontReg).attr("font-size", 28).attr("fill", "#1a1a1a")
        .text(yTitle);
    svg.append("text")
        .attr("transform", `translate(2019,${cy + ph / 2}) rotate(-90)`)
        .attr("text-anchor", "middle")
        .attr("font-family", fontReg).attr("font-size", 28).attr("fill", "#1a1a1a")
        .text(yTitle);
}
</script>
</body>
</html>
